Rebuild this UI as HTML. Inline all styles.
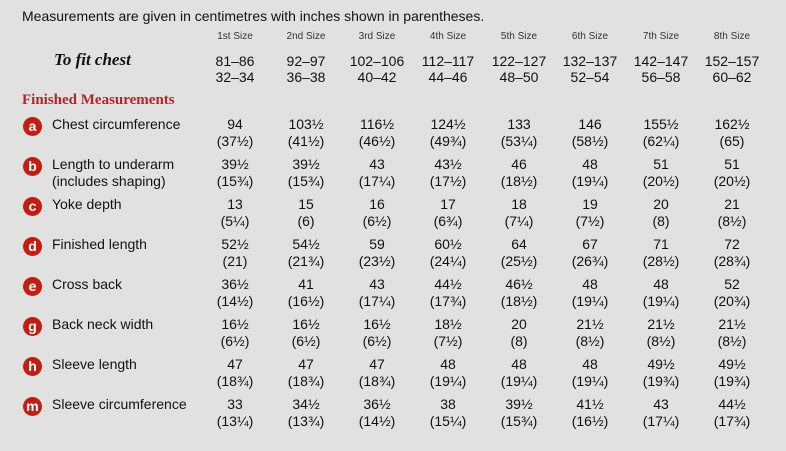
<!DOCTYPE html>
<html><head><meta charset="utf-8"><style>
body{margin:0;width:786px;height:451px;background:#e1e1e1;font-family:"Liberation Sans",sans-serif;color:#111;position:relative;overflow:hidden}
.a{position:absolute;white-space:nowrap}
.c{position:absolute;width:70px;text-align:center;font-size:14px;line-height:17px}
.s{position:absolute;width:70px;text-align:center;font-size:10px;color:#333}
.l{position:absolute;left:52px;font-size:14px;line-height:17px}
.d{position:absolute;left:23px;width:19px;height:19px;border-radius:50%;background:#c41e12;color:#fff;font-weight:bold;font-size:14px;line-height:18px;text-align:center}
</style></head><body>
<div class="a" style="left:22px;top:8px;font-size:14px">Measurements are given in centimetres with inches shown in parentheses.</div>
<div class="a" style="left:54px;top:50px;font-family:'Liberation Serif',serif;font-style:italic;font-weight:bold;font-size:17px">To fit chest</div>
<div class="a" style="left:22px;top:92px;font-family:'Liberation Serif',serif;font-weight:bold;font-size:15px;color:#b5232b">Finished Measurements</div>
<div id="g"></div>
<script>
var sizes=["1st Size","2nd Size","3rd Size","4th Size","5th Size","6th Size","7th Size","8th Size"];
var fit=[["81–86","32–34"],["92–97","36–38"],["102–106","40–42"],["112–117","44–46"],["122–127","48–50"],["132–137","52–54"],["142–147","56–58"],["152–157","60–62"]];
var rows=[["a","Chest circumference",[["94","37½"],["103½","41½"],["116½","46½"],["124½","49¾"],["133","53¼"],["146","58½"],["155½","62¼"],["162½","65"]]],
["b","Length to underarm<br>(includes shaping)",[["39½","15¾"],["39½","15¾"],["43","17¼"],["43½","17½"],["46","18½"],["48","19¼"],["51","20½"],["51","20½"]]],
["c","Yoke depth",[["13","5¼"],["15","6"],["16","6½"],["17","6¾"],["18","7¼"],["19","7½"],["20","8"],["21","8½"]]],
["d","Finished length",[["52½","21"],["54½","21¾"],["59","23½"],["60½","24¼"],["64","25½"],["67","26¾"],["71","28½"],["72","28¾"]]],
["e","Cross back",[["36½","14½"],["41","16½"],["43","17¼"],["44½","17¾"],["46½","18½"],["48","19¼"],["48","19¼"],["52","20¾"]]],
["g","Back neck width",[["16½","6½"],["16½","6½"],["16½","6½"],["18½","7½"],["20","8"],["21½","8½"],["21½","8½"],["21½","8½"]]],
["h","Sleeve length",[["47","18¾"],["47","18¾"],["47","18¾"],["48","19¼"],["48","19¼"],["48","19¼"],["49½","19¾"],["49½","19¾"]]],
["m","Sleeve circumference",[["33","13¼"],["34½","13¾"],["36½","14½"],["38","15¼"],["39½","15¾"],["41½","16½"],["43","17¼"],["44½","17¾"]]]];
var h="";
for(var i=0;i<8;i++){var x=235+71*i-35;
h+='<div class="s" style="left:'+x+'px;top:31px">'+sizes[i]+'</div>';
h+='<div class="c" style="left:'+x+'px;top:53px;font-size:14px;line-height:16px">'+fit[i][0]+'<br>'+fit[i][1]+'</div>';}
rows.forEach(function(r,j){var y=116+40*j;
h+='<div class="d" style="top:'+(y+1)+'px">'+r[0]+'</div><div class="l" style="top:'+y+'px">'+r[1]+'</div>';
r[2].forEach(function(v,i){h+='<div class="c" style="left:'+(235+71*i-35)+'px;top:'+y+'px">'+v[0]+'<br>('+v[1]+')</div>';});});
document.getElementById("g").innerHTML=h;
</script>
</body></html>
